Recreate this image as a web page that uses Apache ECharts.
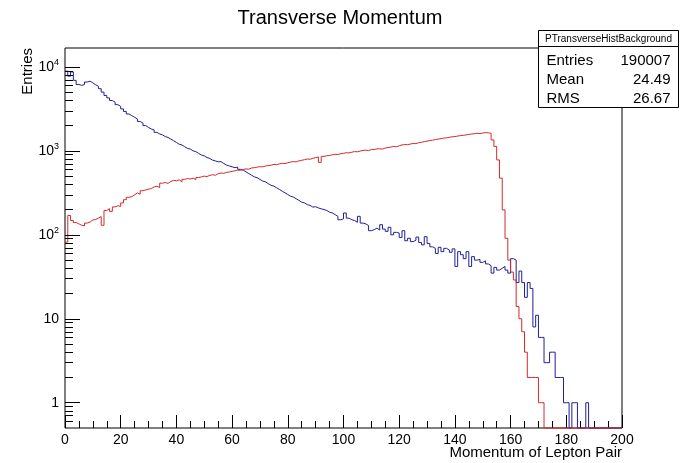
<!DOCTYPE html>
<html>
<head>
<meta charset="utf-8">
<script src="https://cdn.jsdelivr.net/npm/echarts@6/dist/echarts.min.js"></script>
<style>
  html, body { margin: 0; padding: 0; background: #fff; }
  #chart { width: 680px; height: 463px; }
</style>
</head>
<body>
<div id="chart"></div>
<script>
// bin width 1 GeV, 200 bins from 0 to 200
const BIN_W = 1;
const X_MIN = 0, X_MAX = 200;
const Y_MIN = 0.5, Y_MAX = 16800;

// background histogram (blue), counts per bin
const backgroundCounts = [
  8900, 7760, 8710, 6920, 6170, 6030, 6150, 6610, 6760, 6460,
  6120, 5890, 5500, 5010, 4570, 4270, 3980, 3800, 3550, 3390,
  3160, 2950, 2750, 2630, 2510, 2400, 2240, 2140, 2000, 1900,
  1820, 1780, 1660, 1590, 1550, 1480, 1445, 1380, 1320, 1260,
  1200, 1175, 1120, 1070, 1050, 1000, 977, 933, 891, 871,
  832, 813, 776, 759, 741, 745, 708, 676, 661, 646,
  631, 640, 603, 589, 562, 537, 513, 490, 479, 457,
  437, 427, 407, 389, 380, 363, 347, 331, 316, 302,
  288, 282, 269, 257, 245, 240, 229, 224, 214, 216,
  209, 204, 200, 195, 186, 182, 174, 166, 151, 155,
  182, 158, 151, 148, 141, 166, 138, 135, 129, 112,
  115, 120, 114, 132, 117, 110, 123, 100, 107, 105,
  93, 112, 85, 91, 83, 86, 94, 81, 76, 95,
  79, 72, 69, 60, 71, 63, 69, 66, 62, 68,
  42, 63, 58, 52, 63, 42, 55, 50, 51, 47,
  49, 45, 43, 35, 41, 38, 40, 42, 38, 35,
  52, 50, 27, 37, 27, 18, 27, 23, 8, 11,
  6, 6, 3, 3, 4, 4, 2, 2, 2, 1,
  1, 0, 1, 1, 0, 0, 0, 1, 0, 0,
  0, 0, 0, 0, 0, 0, 0, 0, 0, 0
];

// signal histogram (red), counts per bin
const signalCounts = [
  82, 170, 148, 140, 135, 130, 128, 138, 142, 150,
  152, 158, 165, 130, 195, 205, 190, 215, 222, 218,
  240, 262, 280, 285, 300, 315, 305, 335, 342, 350,
  355, 372, 380, 365, 412, 420, 410, 432, 445, 440,
  452, 428, 458, 468, 462, 472, 456, 482, 490, 500,
  495, 510, 520, 512, 535, 545, 540, 555, 560, 570,
  578, 590, 585, 600, 610, 605, 625, 632, 640, 648,
  645, 660, 668, 675, 690, 685, 700, 712, 705, 722,
  735, 745, 740, 760, 772, 785, 800, 795, 815, 830,
  845, 730, 860, 875, 880, 900, 910, 905, 925, 935,
  950, 945, 965, 980, 975, 995, 1010, 1020, 1005, 1035,
  1040, 1055, 1060, 1050, 1080, 1095, 1110, 1130, 1120, 1150,
  1175, 1190, 1185, 1205, 1225, 1220, 1250, 1265, 1290, 1305,
  1330, 1340, 1365, 1380, 1400, 1420, 1430, 1450, 1470, 1480,
  1500, 1520, 1530, 1550, 1570, 1590, 1600, 1620, 1610, 1630,
  1650, 1640, 1620, 1350, 1130, 780, 473, 198, 91, 50,
  36, 29, 14, 10, 7, 4, 2, 2, 2, 2,
  1, 1, 0, 0, 0, 0, 0, 0, 0, 0,
  0, 0, 0, 0, 0, 0, 0, 0, 0, 0,
  0, 0, 0, 0, 0, 0, 0, 0, 0, 0
];

const yMajorTicks = [1, 10, 100, 1000, 10000];
const xTickInterval = 20;

const statsTitle = 'PTransverseHistBackground';
const statsNames = ['Entries', 'Mean', 'RMS'];
const statsValues = ['190007', '24.49', '26.67'];

const FONT = '"Liberation Sans", Arial, Helvetica, sans-serif';

const GRID = { left: 65, right: 58, top: 48, bottom: 35 };
const PX_PER_X = (680 - GRID.left - GRID.right) / (X_MAX - X_MIN);
// tick lengths in pixels, turned into x units for markLine coords
const MAJOR_LEN = 15 / PX_PER_X, MINOR_LEN = 8 / PX_PER_X;

// minor ticks of the log axis: 2..9 in every decade
const yMinorTicks = [];
[0.1, 1, 10, 100, 1000].forEach(d => {
  for (let k = 2; k <= 9; k++) {
    const v = +(k * d).toPrecision(3);
    if (v > Y_MIN && v < Y_MAX) yMinorTicks.push(v);
  }
});

// histogram contour: empty bins sit on the lower frame, like ROOT
function histSteps(counts) {
  const pts = counts.map((c, i) => [X_MIN + i * BIN_W, c > 0 ? c : Y_MIN]);
  pts.push([X_MIN + counts.length * BIN_W, pts[pts.length - 1][1]]);
  return pts;
}

function logLabel(v) {
  if (v < 100) return '{b|' + v + '}';
  return '{b|10}{s|' + Math.round(Math.log10(v)) + '}';
}

// y axis ticks as short mark lines on the log scale
const yTickLines = yMajorTicks.map(v => [{ coord: [X_MIN, v] }, { coord: [X_MIN + MAJOR_LEN, v] }])
  .concat(yMinorTicks.map(v => [{ coord: [X_MIN, v] }, { coord: [X_MIN + MINOR_LEN, v] }]));

const chart = echarts.init(document.getElementById('chart'), null, { renderer: 'canvas' });

const option = {
  animation: false,
  backgroundColor: '#fff',
  textStyle: { fontFamily: FONT },
  title: {
    text: 'Transverse Momentum',
    left: 'center',
    top: 3,
    textStyle: { fontFamily: FONT, fontSize: 20, fontWeight: 'normal', color: '#000' }
  },
  grid: {
    left: GRID.left, right: GRID.right, top: GRID.top, bottom: GRID.bottom,
    containLabel: false,
    outerBoundsMode: 'none',
    show: true, borderColor: '#000', borderWidth: 1
  },
  xAxis: {
    type: 'value',
    min: X_MIN, max: X_MAX, interval: xTickInterval,
    axisLine: { show: false },
    splitLine: { show: false },
    axisTick: { show: true, inside: true, length: 13, lineStyle: { color: '#000' } },
    minorTick: { show: true, splitNumber: 4, length: 7, lineStyle: { color: '#000' } },
    axisLabel: { fontFamily: FONT, fontSize: 14, color: '#000', margin: 5 }
  },
  yAxis: {
    type: 'log',
    min: Y_MIN, max: Y_MAX,
    axisLine: { show: false },
    splitLine: { show: false },
    axisTick: { show: false },
    axisLabel: {
      show: true,
      customValues: yMajorTicks,
      margin: 6,
      formatter: logLabel,
      rich: {
        b: { fontFamily: FONT, fontSize: 14, color: '#000', lineHeight: 18 },
        s: { fontFamily: FONT, fontSize: 9, color: '#000', lineHeight: 10, verticalAlign: 'top' }
      }
    }
  },
  series: [
    {
      name: 'background',
      type: 'line',
      step: 'end',
      data: histSteps(backgroundCounts),
      showSymbol: false,
      clip: false,
      lineStyle: { color: '#1f1f9c', width: 1 },
      markLine: {
        silent: true,
        animation: false,
        symbol: ['none', 'none'],
        label: { show: false },
        emphasis: { disabled: true },
        lineStyle: { color: '#000', width: 1, type: 'solid' },
        data: yTickLines
      }
    },
    {
      name: 'signal',
      type: 'line',
      step: 'end',
      data: histSteps(signalCounts),
      showSymbol: false,
      clip: false,
      lineStyle: { color: '#d42a2a', width: 1 }
    }
  ],
  graphic: [
    {
      type: 'text',
      x: 28, y: 48,
      rotation: Math.PI / 2,
      style: { text: 'Entries', fontFamily: FONT, fontSize: 15, fill: '#000', align: 'right', verticalAlign: 'middle' }
    },
    {
      type: 'text',
      x: 622, y: 453,
      style: { text: 'Momentum of Lepton Pair', fontFamily: FONT, fontSize: 15, fill: '#000', align: 'right', verticalAlign: 'middle' }
    },
    {
      type: 'group',
      x: 538.5, y: 30.5,
      z: 100,
      children: [
        { type: 'rect', shape: { x: 0, y: 0, width: 140, height: 77 }, style: { fill: '#fff', stroke: '#000', lineWidth: 1 } },
        { type: 'line', shape: { x1: 0, y1: 16, x2: 140, y2: 16 }, style: { stroke: '#000', lineWidth: 1 } },
        { type: 'text', x: 70, y: 8.5, style: { text: statsTitle, fontFamily: FONT, fontSize: 10, fill: '#000', align: 'center', verticalAlign: 'middle' } }
      ].concat(statsNames.map((n, i) => ({
        type: 'text', x: 8, y: 30 + i * 19.2,
        style: { text: n, fontFamily: FONT, fontSize: 15, fill: '#000', align: 'left', verticalAlign: 'middle' }
      }))).concat(statsValues.map((v, i) => ({
        type: 'text', x: 132, y: 30 + i * 19.2,
        style: { text: v, fontFamily: FONT, fontSize: 15, fill: '#000', align: 'right', verticalAlign: 'middle' }
      })))
    }
  ]
};

chart.setOption(option);
</script>
</body>
</html>
